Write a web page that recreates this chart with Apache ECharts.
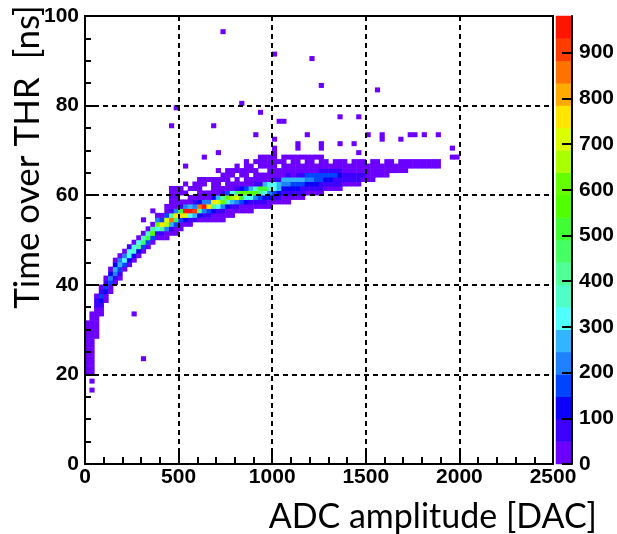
<!DOCTYPE html>
<html>
<head>
<meta charset="utf-8">
<script src="https://cdn.jsdelivr.net/npm/echarts@6/dist/echarts.min.js"></script>
<style>
  html, body { margin: 0; padding: 0; background: #fff; }
  #chart { width: 617px; height: 534px; }
</style>
</head>
<body>
<div id="chart"></div>
<script>
// histogram binning: 100 x 100 bins, 25 DAC x 1 ns
const NX = 100, NY = 100, X_BIN = 25, Y_BIN = 1;

// colour scale levels (counts) and ROOT-like palette
const zLevels = [0, 49, 98, 147, 196, 245, 294, 343, 392, 441, 490, 539, 588, 637, 686, 735, 784, 833, 882, 931, 980];
const zColors = ['#6c00ff', '#3c00ff', '#0c00f8', '#0044ff', '#1e82ff', '#33b4ff', '#50ffff', '#50ffc8',
  '#50ff96', '#46ff64', '#40ff32', '#50ff00', '#64ff00', '#aaff00', '#dcff00', '#ffe600',
  '#ffaa00', '#ff7200', '#ff3c00', '#ff1400'];

// [x bin, first y bin, counts going up]
const columns = [
  [0, 20, [3, 5, 6, 8, 10, 9, 8, 7, 9, 10, 8, 5]],
  [1, 20, [6, 8, 10, 12, 14, 14, 16, 18, 20, 22, 25, 30, 25, 15]],
  [2, 28, [10, 15, 20, 25, 30, 35, 45, 70, 60, 30]],
  [3, 33, [10, 30, 80, 130, 160, 70, 10]],
  [4, 36, [10, 40, 120, 170, 80, 10]],
  [5, 38, [10, 40, 150, 220, 120, 20]],
  [6, 40, [15, 60, 200, 260, 110, 15]],
  [7, 41, [10, 50, 170, 280, 200, 30]],
  [8, 43, [30, 150, 310, 230, 40]],
  [9, 44, [20, 120, 330, 300, 50]],
  [10, 45, [20, 110, 360, 320, 40]],
  [11, 46, [20, 120, 420, 300, 30]],
  [12, 47, [20, 150, 480, 350, 30]],
  [13, 48, [20, 160, 520, 380, 40]],
  [14, 49, [20, 180, 560, 400, 40]],
  [15, 50, [10, 60, 300, 620, 200, 20]],
  [16, 50, [10, 80, 420, 760, 180, 20]],
  [17, 50, [5, 40, 200, 650, 700, 150, 20, 5]],
  [18, 51, [10, 60, 250, 860, 400, 80, 20, 10, 5, 3, 2]],
  [19, 51, [10, 40, 150, 480, 780, 200, 40, 15, 8, 5, 3]],
  [20, 52, [8, 30, 150, 760, 500, 60, 20, 0, 6, 3]],
  [21, 53, [25, 120, 700, 950, 200, 30, 0, 6, 0, 2]],
  [22, 53, [20, 80, 300, 940, 250, 40, 15, 0, 4, 0]],
  [23, 54, [60, 250, 920, 200, 50, 20, 0, 5, 2]],
  [24, 54, [30, 100, 400, 860, 120, 30, 12, 5, 3]],
  [25, 54, [20, 80, 200, 950, 200, 30, 12, 0, 3, 2]],
  [26, 54, [15, 60, 180, 770, 200, 40, 15, 0, 0, 2]],
  [27, 54, [10, 40, 120, 400, 740, 120, 25, 10, 5, 3]],
  [28, 54, [8, 30, 90, 300, 720, 250, 30, 12, 6, 3, 0, 2]],
  [29, 54, [5, 20, 60, 200, 600, 400, 80, 20, 0, 5, 3, 0]],
  [30, 55, [15, 40, 120, 350, 620, 150, 25, 12, 6, 3, 2]],
  [31, 55, [10, 30, 80, 250, 650, 300, 40, 15, 0, 4, 2]],
  [32, 56, [20, 60, 200, 700, 450, 60, 20, 10, 0, 3]],
  [33, 56, [15, 40, 150, 500, 550, 100, 25, 0, 6, 4]],
  [34, 56, [10, 30, 100, 300, 620, 150, 30, 15, 8, 4, 3]],
  [35, 56, [5, 25, 80, 300, 560, 250, 40, 15, 0, 5, 3]],
  [36, 57, [20, 70, 200, 540, 350, 50, 18, 10, 6, 0, 2, 0]],
  [37, 57, [15, 60, 150, 400, 520, 80, 20, 10, 0, 4, 2, 2]],
  [38, 57, [12, 50, 120, 300, 500, 250, 25, 12, 0, 4, 3, 2]],
  [39, 57, [10, 40, 100, 200, 350, 320, 40, 14, 8, 5, 3, 2]],
  [40, 58, [30, 80, 160, 300, 330, 60, 15, 8, 5, 3, 2]],
  [41, 58, [25, 70, 140, 250, 290, 80, 16, 9, 0, 3, 0]],
  [42, 58, [20, 40, 80, 140, 240, 260, 40, 10, 6, 3, 2]],
  [43, 58, [15, 35, 70, 120, 220, 250, 50, 10, 6, 0, 2]],
  [44, 59, [30, 60, 110, 180, 270, 40, 12, 7, 4, 2]],
  [45, 59, [25, 55, 100, 170, 260, 60, 12, 7, 4, 2]],
  [46, 59, [20, 50, 90, 150, 250, 70, 12, 7, 0, 2]],
  [47, 60, [40, 80, 130, 230, 150, 30, 13, 7, 4]],
  [48, 60, [35, 70, 110, 210, 160, 35, 14, 8, 4]],
  [49, 60, [30, 60, 100, 180, 170, 40, 14, 0, 4]],
  [50, 60, [25, 50, 90, 150, 180, 50, 15, 8, 4]],
  [51, 61, [40, 80, 110, 170, 60, 16, 8]],
  [52, 61, [35, 70, 100, 160, 70, 17, 0]],
  [53, 61, [30, 60, 90, 150, 80, 18, 9]],
  [54, 61, [25, 50, 80, 130, 90, 20, 10]],
  [55, 62, [40, 70, 90, 30, 10, 5]],
  [56, 62, [35, 60, 80, 35, 11, 0]],
  [57, 62, [30, 55, 70, 35, 11, 6]],
  [58, 62, [25, 50, 60, 35, 12, 6]],
  [59, 63, [45, 50, 35, 12, 6]],
  [60, 63, [40, 45, 35, 13, 0]],
  [61, 63, [35, 42, 35, 14, 7]],
  [62, 64, [35, 35, 16, 7]],
  [63, 64, [30, 33, 16, 0]],
  [64, 64, [28, 30, 17, 8]],
  [65, 65, [25, 18, 8]],
  [66, 65, [22, 18, 0]],
  [67, 65, [20, 18, 9]],
  [68, 65, [18, 16, 9]],
  [69, 66, [15, 9]],
  [70, 66, [14, 9]],
  [71, 66, [12, 8]],
  [72, 66, [10, 7]],
  [73, 66, [8, 6]],
  [74, 66, [5, 4]],
  [75, 66, [3, 3]]
];

// isolated single-entry bins [x bin, y bin]
const outliers = [
  [1, 16], [1, 18], [10, 33], [12, 23], [12, 54], [14, 56], [18, 75], [19, 79], [21, 66], [24, 63],
  [25, 68], [27, 75], [28, 69], [29, 96], [32, 66], [33, 80], [34, 67], [36, 73], [37, 78], [40, 69],
  [40, 70], [40, 72], [40, 91], [41, 76], [42, 76], [45, 70], [45, 71], [47, 73], [48, 90], [50, 84],
  [50, 70], [50, 71], [54, 71], [54, 77], [57, 71], [58, 69], [58, 77], [60, 73], [62, 83], [63, 72],
  [63, 73], [67, 72], [69, 73], [70, 73], [72, 73], [75, 73], [78, 68], [79, 68], [78, 70]
];

const xCats = [], yCats = [];
for (let i = 0; i < NX; i++) xCats.push(String(i * X_BIN));
for (let j = 0; j < NY; j++) yCats.push(String(j * Y_BIN));

const histData = [];
columns.forEach(([ix, y0, counts]) => {
  counts.forEach((c, k) => { if (c > 0) histData.push([ix, y0 + k, c]); });
});
outliers.forEach(([ix, iy]) => histData.push([ix, iy, 1]));

const bandCats = [], barData = [], pieces = [];
for (let i = 0; i < zColors.length; i++) {
  bandCats.push(String(zLevels[i]));
  barData.push([0, i, (zLevels[i] + zLevels[i + 1]) / 2]);
  pieces.push({ gte: zLevels[i], lt: zLevels[i + 1], color: zColors[i] });
}

const plain = v => String(v);
const labelFont = { color: '#000', fontSize: 21, fontWeight: 'bold', fontFamily: 'Liberation Sans', formatter: plain };
const black2 = { color: '#000', width: 2 };
const dashed = { color: '#000', width: 2, type: [5, 4] };

const chart = echarts.init(document.getElementById('chart'));
chart.setOption({
  animation: false,
  backgroundColor: '#fff',
  grid: [
    { left: 85, top: 16, width: 468, height: 448, show: true, borderColor: '#000', borderWidth: 2, backgroundColor: 'transparent' },
    { left: 556, top: 16, width: 27, height: 448 }
  ],
  xAxis: [
    { type: 'category', gridIndex: 0, data: xCats, show: false, position: 'top' },
    {
      type: 'value', gridIndex: 0, min: 0, max: 2500, interval: 500, position: 'bottom', z: 5,
      axisLine: { show: true, lineStyle: black2 },
      axisTick: { show: true, inside: true, length: 13, lineStyle: black2 },
      minorTick: { show: true, splitNumber: 5, length: 7, lineStyle: black2 },
      splitLine: { show: true, lineStyle: dashed },
      axisLabel: Object.assign({ margin: 3 }, labelFont)
    },
    { type: 'category', gridIndex: 1, data: ['z'], show: false }
  ],
  yAxis: [
    { type: 'category', gridIndex: 0, data: yCats, show: false, position: 'right' },
    {
      type: 'value', gridIndex: 0, min: 0, max: 100, interval: 20, position: 'left', z: 5,
      axisLine: { show: true, lineStyle: black2 },
      axisTick: { show: true, inside: true, length: 12, lineStyle: black2 },
      minorTick: { show: true, splitNumber: 4, length: 6, lineStyle: black2 },
      splitLine: { show: true, lineStyle: dashed },
      axisLabel: Object.assign({ margin: 6 }, labelFont)
    },
    { type: 'category', gridIndex: 1, data: bandCats, show: false },
    {
      type: 'value', gridIndex: 1, min: 0, max: 980, interval: 100, position: 'right', z: 5,
      axisLine: { show: true, lineStyle: black2 },
      axisTick: { show: true, inside: true, length: 10, lineStyle: black2 },
      splitLine: { show: false },
      axisLabel: Object.assign({ margin: 7, showMaxLabel: false }, labelFont)
    }
  ],
  visualMap: {
    type: 'piecewise', show: false, dimension: 2, seriesIndex: [0, 1], pieces: pieces
  },
  series: [
    { type: 'heatmap', xAxisIndex: 0, yAxisIndex: 0, data: histData, progressive: 0, emphasis: { disabled: true } },
    { type: 'heatmap', xAxisIndex: 2, yAxisIndex: 2, data: barData, progressive: 0, emphasis: { disabled: true } }
  ],
  graphic: [
    {
      type: 'text', x: 28, y: 157, rotation: Math.PI / 2,
      style: { text: 'Time over THR  [ns]', x: 0, y: 0, textAlign: 'center', textVerticalAlign: 'middle',
        font: '35px Lato', fill: '#000' }
    },
    {
      type: 'text', x: 597, y: 517,
      style: { text: 'ADC amplitude [DAC]', x: 0, y: 0, textAlign: 'right', textVerticalAlign: 'middle',
        font: '34px Lato', fill: '#000' }
    }
  ]
});
</script>
</body>
</html>
